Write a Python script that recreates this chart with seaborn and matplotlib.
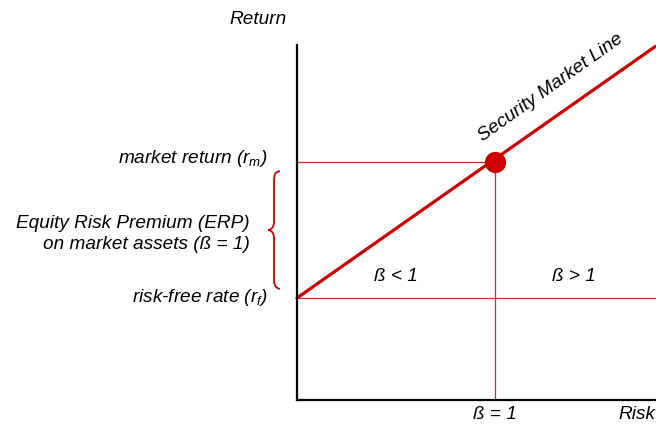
import matplotlib
matplotlib.use('Agg')
import matplotlib.pyplot as plt
import seaborn as sns
import numpy as np
import pandas as pd
from matplotlib.path import Path
from matplotlib.patches import PathPatch

# values (beta on x, return on y, arbitrary units)
risk_free = 3.0
market_return = 7.0
market_beta = 1.0
sml_beta = [0.0, 1.81]
sml_return = [3.0, 10.4]
x_max = 1.813
y_axis_top = 10.44

sns.set_style('white')
plt.rcParams['font.family'] = ['Liberation Sans', 'DejaVu Sans']
plt.rcParams['mathtext.fontset'] = 'custom'
plt.rcParams['mathtext.it'] = 'Liberation Sans:italic'
plt.rcParams['mathtext.rm'] = 'Liberation Sans:italic'

red = '#cc0000'
thin_red = '#d42a2a'

fig = plt.figure(figsize=(6.56, 4.25), dpi=100)
ax = fig.add_axes([297 / 656, 25 / 425, 359 / 656, 361 / 425])
ax.set_xlim(0, x_max)
ax.set_ylim(0, 361 / 34)

# guide lines
ax.hlines(market_return, 0, market_beta, color=thin_red, lw=0.9)
ax.hlines(risk_free, 0, x_max, color=thin_red, lw=0.9)
ax.vlines(market_beta, 0, market_return, color=thin_red, lw=0.9)

# security market line and market portfolio
sml = pd.DataFrame({'beta': sml_beta, 'ret': sml_return})
sns.lineplot(data=sml, x='beta', y='ret', color=red, lw=2.3, ax=ax, clip_on=False)
sns.scatterplot(x=[market_beta], y=[market_return], color=red, s=200,
                edgecolor=red, zorder=5, ax=ax)

# axes look
for side in ['top', 'right']:
    ax.spines[side].set_visible(False)
for side in ['left', 'bottom']:
    ax.spines[side].set_color('black')
    ax.spines[side].set_linewidth(1.6)
ax.spines['left'].set_bounds(0, y_axis_top)
ax.set_xticks([])
ax.set_yticks([])
ax.set_xlabel('')
ax.set_ylabel('')

fs = 13.7
txt = dict(fontsize=fs, style='italic', color='black', clip_on=False)
ax.text(-0.197, 11.18, 'Return', ha='center', va='center', **txt)
ax.text(1.808, -0.42, 'Risk', ha='right', va='center', **txt)
ax.text(market_beta, -0.42, 'ß = 1', ha='center', va='center', **txt)
ax.text(0.5, 3.62, 'ß < 1', ha='center', va='center', **txt)
ax.text(1.40, 3.62, 'ß > 1', ha='center', va='center', **txt)
ax.text(-0.146, market_return + 0.1, 'market return ($r_m$)', ha='right', va='center', **txt)
ax.text(-0.146, risk_free, 'risk-free rate ($r_f$)', ha='right', va='center', **txt)
ax.text(-0.237, 4.88, 'Equity Risk Premium (ERP)\non market assets (ß = 1)',
        ha='right', va='center', multialignment='right', linespacing=1.3, **txt)
ax.text(1.283, 9.18, 'Security Market Line', ha='center', va='center',
        rotation=35.5, rotation_mode='anchor', **txt)

# curly brace between risk-free rate and market return
bx = -0.116
top = market_return - 0.27
bot = risk_free + 0.27
mid = (top + bot) / 2
w = 0.03
verts = [(bx + w, top), (bx, top), (bx, top - 0.25),
         (bx, mid + 0.25),
         (bx, mid), (bx - w, mid), (bx - w, mid),
         (bx - w, mid), (bx, mid), (bx, mid - 0.25),
         (bx, bot + 0.25),
         (bx, bot), (bx + w, bot), (bx + w, bot)]
codes = [Path.MOVETO, Path.CURVE3, Path.CURVE3,
         Path.LINETO,
         Path.CURVE4, Path.CURVE4, Path.CURVE4,
         Path.CURVE4, Path.CURVE4, Path.CURVE4,
         Path.LINETO,
         Path.CURVE4, Path.CURVE4, Path.CURVE4]
brace = PathPatch(Path(verts, codes), fc='none', ec=red, lw=1.3, clip_on=False)
ax.add_patch(brace)

fig.savefig('out.png', dpi=100)
